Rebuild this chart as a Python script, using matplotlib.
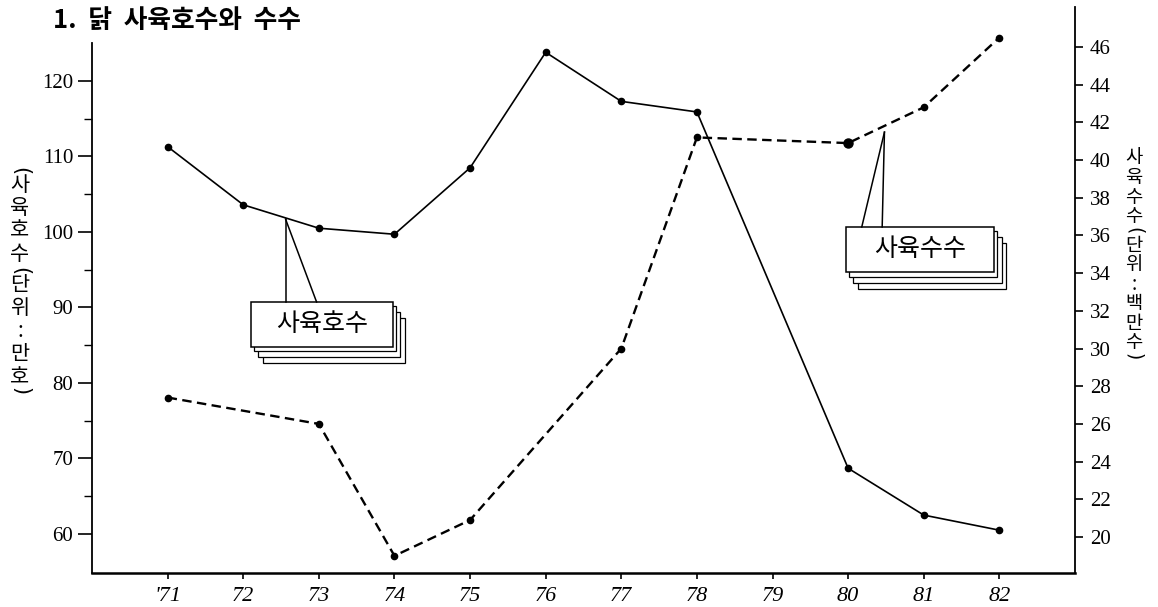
"""
닭 사육호수와 수수 ('71~'82) — 이중 축 꺾은선 그래프 재현.
"""
import matplotlib
matplotlib.use("Agg")
import matplotlib.pyplot as plt
import matplotlib.transforms as mtransforms
from matplotlib.patches import Rectangle

plt.rcParams["font.family"] = ["Noto Sans CJK KR", "DejaVu Sans"]

# ---------------------------------------------------------------------------
# 데이터
# ---------------------------------------------------------------------------
anos = [71, 72, 73, 74, 75, 76, 77, 78, 79, 80, 81, 82]
rotulos_x = ["'71", "72", "73", "74", "75", "76", "77", "78", "79", "80", "81", "82"]

# 사육호수 (단위: 만호) — 왼쪽 축, 실선
anos_hogu = [71, 72, 73, 74, 75, 76, 77, 78, 80, 81, 82]
hogu = [111.3, 103.6, 100.5, 99.7, 108.5, 123.8, 117.3, 115.9, 68.7, 62.5, 60.5]

# 사육수수 (단위: 백만수) — 오른쪽 축, 점선
anos_susu = [71, 73, 74, 75, 77, 78, 80, 81, 82]
susu = [27.4, 26.0, 19.0, 20.9, 30.0, 41.2, 40.9, 42.8, 46.5]

W, H = 1158, 607
SERIF = "Liberation Serif"


def px(x, y):
    """pixel (top-left origin) -> figure fraction"""
    return x / W, 1 - y / H


def texto_vertical(fig, x, y0, texto, passo, size, folga=0.6):
    # um caractere por linha; parênteses girados 90° (⌒ / ‿)
    y = y0
    for ch in texto:
        if ch == "(":
            y += passo * (folga - 0.25)
            fig.text(*px(x, y - passo * folga), "(", rotation=-90, ha="center",
                     va="center", fontsize=size, fontfamily="DejaVu Sans")
        elif ch == ")":
            fig.text(*px(x, y - passo * (1 - folga)), ")", rotation=-90, ha="center",
                     va="center", fontsize=size, fontfamily="DejaVu Sans")
        else:
            fig.text(*px(x, y), ch, ha="center", va="center", fontsize=size)
            y += passo


def balao(ax, fig, caixa, apice, pes, texto):
    """caixa com ponteiro e 'sombras' empilhadas"""
    (x0, x1), (y0, y1) = caixa
    for dx, dy in [(12, 16.5), (7.5, 10.5), (3, 4.5)]:
        tr = mtransforms.offset_copy(ax.transData, fig=fig, x=dx, y=-dy, units="dots")
        ax.add_patch(Rectangle((x0, y0), x1 - x0, y1 - y0, transform=tr,
                               facecolor="white", edgecolor="black", lw=0.9, zorder=5))
    ax.add_patch(Rectangle((x0, y0), x1 - x0, y1 - y0, facecolor="white",
                           edgecolor="black", lw=1.1, zorder=6))
    for pe in pes:
        ax.plot([apice[0], pe], [apice[1], y1], color="black", lw=1.1, zorder=6)
    ax.text((x0 + x1) / 2, (y0 + y1) / 2, texto, ha="center", va="center",
            fontsize=18, zorder=7)


fig = plt.figure(figsize=(W / 100, H / 100), dpi=100)
ax1 = fig.add_axes([92 / W, 34 / H, 983 / W, 566 / H])
ax2 = ax1.twinx()

# eixos
ax1.set_xlim(70.0, 83.0)
ax1.set_ylim(54.83, 129.8)
ax2.set_ylim(18.09, 48.12)

for s in ("top", "right"):
    ax1.spines[s].set_visible(False)
for s in ("top", "left", "bottom"):
    ax2.spines[s].set_visible(False)
ax1.spines["left"].set_bounds(54.83, 125.0)
ax1.spines["left"].set_linewidth(1.3)
ax1.spines["bottom"].set_linewidth(1.8)
ax2.spines["right"].set_linewidth(1.3)

ax1.set_xticks(anos)
ax1.set_xticklabels(rotulos_x, fontfamily=SERIF, fontsize=16, style="italic")
ax1.tick_params(axis="x", direction="out", length=4.3, width=1.2, pad=5.5)

ax1.set_yticks(range(60, 121, 10))
ax1.set_yticks(range(65, 116, 10), minor=True)
ax1.set_yticklabels([str(v) for v in range(60, 121, 10)], fontfamily=SERIF, fontsize=15)
ax1.tick_params(axis="y", which="major", direction="out", length=10, width=1.2, pad=3.6)
ax1.tick_params(axis="y", which="minor", direction="out", length=5.8, width=1.0)

ax2.set_yticks(range(20, 47, 2))
ax2.set_yticklabels([str(v) for v in range(20, 47, 2)], fontfamily=SERIF, fontsize=15)
ax2.tick_params(axis="y", direction="out", length=5.8, width=1.2, pad=5)

# séries
ax1.plot(anos_hogu, hogu, color="black", lw=1.2, marker="o", markersize=4.5, zorder=3)
ax2.plot(anos_susu, susu, color="black", lw=1.7, ls=(0, (4, 2.3)),
         marker="o", markersize=4.5, zorder=3)
ax2.plot([80], [susu[anos_susu.index(80)]], "o", color="black", markersize=6.5, zorder=3)

# balões
balao(ax1, fig, ((72.10, 73.98), (84.77, 90.73)), (72.56, 101.7), (72.56, 72.97), "사육호수")
balao(ax2, fig, ((79.97, 81.93), (34.06, 36.45)), (80.48, 41.48), (80.18, 80.45), "사육수수")

# títulos
fig.text(*px(53, 20), "1.  닭  사육호수와  수수", ha="left", va="center",
         fontsize=18.5, fontweight="bold")
texto_vertical(fig, 20, 177, "(사육호수(단위:만호)", 23, 15)
texto_vertical(fig, 1134, 158, "사육수수(단위:백만수)", 19.5, 13.5, folga=0.72)

fig.savefig("out.png", dpi=100)
